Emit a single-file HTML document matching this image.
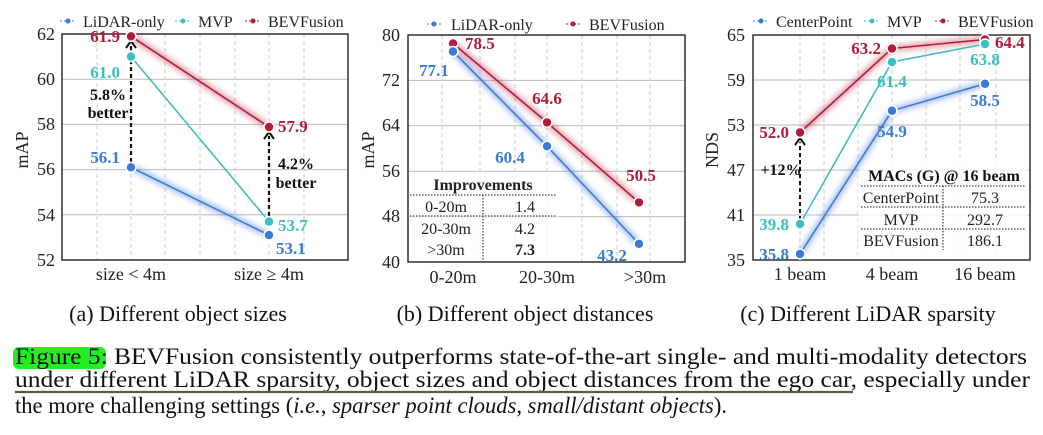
<!DOCTYPE html>
<html><head><meta charset="utf-8"><style>
html,body{margin:0;padding:0;background:#fff;}
svg{display:block;font-family:"Liberation Serif","Times New Roman",Times,serif;}
</style></head><body>
<svg width="1043" height="435" viewBox="0 0 1043 435" xmlns="http://www.w3.org/2000/svg" font-family="Liberation Serif, Times New Roman, serif">
<defs>
<filter id="glow" x="-20%" y="-20%" width="140%" height="140%"><feGaussianBlur stdDeviation="3"/></filter>
</defs>
<g font-size="17" fill="#222">
<!-- ===== Chart A ===== -->
<g stroke="#bbb" stroke-width="1">
<line x1="62" y1="79.2" x2="348" y2="79.2"/><line x1="62" y1="124.4" x2="348" y2="124.4"/><line x1="62" y1="169.6" x2="348" y2="169.6"/><line x1="62" y1="214.8" x2="348" y2="214.8"/>
</g>
<g stroke="#ccc" stroke-width="1" stroke-dasharray="4,3">
<line x1="97" y1="34" x2="97" y2="260"/><line x1="131" y1="34" x2="131" y2="260"/><line x1="165" y1="34" x2="165" y2="260"/><line x1="200" y1="34" x2="200" y2="260"/><line x1="235" y1="34" x2="235" y2="260"/><line x1="269" y1="34" x2="269" y2="260"/><line x1="304" y1="34" x2="304" y2="260"/>
</g>
<rect x="62" y="34" width="286" height="226" fill="none" stroke="#111" stroke-width="1.3"/>
<g text-anchor="end" font-size="18"><text x="55" y="40">62</text><text x="55" y="85">60</text><text x="55" y="130">58</text><text x="55" y="175">56</text><text x="55" y="221">54</text><text x="55" y="266">52</text></g>
<text transform="translate(28,150) rotate(-90)" text-anchor="middle" font-size="18">mAP</text>
<g text-anchor="middle" font-size="18"><text x="131" y="280">size &lt; 4m</text><text x="269" y="280">size ≥ 4m</text></g>
<g filter="url(#glow)" stroke-width="6" opacity="0.45">
<line x1="131" y1="36.3" x2="269" y2="127" stroke="#c0203a"/>
<line x1="131" y1="167.3" x2="269" y2="235.1" stroke="#3a6fe0"/>
</g>
<line x1="131" y1="36.3" x2="269" y2="127" stroke="#b01c3a" stroke-width="1.6"/>
<line x1="131" y1="56.6" x2="269" y2="221.6" stroke="#3bbfc0" stroke-width="1.6"/>
<line x1="131" y1="167.3" x2="269" y2="235.1" stroke="#3a7bd5" stroke-width="1.6"/>
<g stroke="#111" stroke-width="2.2" stroke-dasharray="4,3" fill="none">
<line x1="131" y1="162" x2="131" y2="45"/><line x1="269" y1="216" x2="269" y2="136"/>
</g>
<path d="M126,48 L131,41 L136,48" fill="none" stroke="#111" stroke-width="2"/>
<path d="M264,139 L269,132 L274,139" fill="none" stroke="#111" stroke-width="2"/>
<g stroke="#fff" stroke-width="1.6">
<circle cx="131" cy="36.3" r="5" fill="#b01c3a"/><circle cx="269" cy="127" r="5" fill="#b01c3a"/>
<circle cx="131" cy="56.6" r="5" fill="#3bbfc0"/><circle cx="269" cy="221.6" r="5" fill="#3bbfc0"/>
<circle cx="131" cy="167.3" r="5" fill="#3a7bd5"/><circle cx="269" cy="235.1" r="5" fill="#3a7bd5"/>
</g>
<g font-weight="bold" font-size="17">
<text x="120" y="42" text-anchor="end" fill="#b01c3a">61.9</text>
<text x="120" y="78" text-anchor="end" fill="#3bbfc0">61.0</text>
<text x="120" y="163" text-anchor="end" fill="#3a7bd5">56.1</text>
<text x="278" y="132" fill="#b01c3a">57.9</text>
<text x="278" y="231" fill="#3bbfc0">53.7</text>
<text x="276" y="254" fill="#3a7bd5">53.1</text>
<text x="108" y="100" text-anchor="middle" fill="#111" font-size="16">5.8%</text>
<text x="108" y="118" text-anchor="middle" fill="#111" font-size="16">better</text>
<text x="296" y="169" text-anchor="middle" fill="#111" font-size="16">4.2%</text>
<text x="296" y="188" text-anchor="middle" fill="#111" font-size="16">better</text>
</g>
<g font-size="16">
<line x1="60" y1="21" x2="76" y2="21" stroke="#3a7bd5" stroke-dasharray="2,2"/><circle cx="68" cy="21" r="2.5" fill="#3a7bd5"/><text x="83" y="27">LiDAR-only</text>
<line x1="175" y1="21" x2="191" y2="21" stroke="#3bbfc0" stroke-dasharray="2,2"/><circle cx="183" cy="21" r="2.5" fill="#3bbfc0"/><text x="198" y="27">MVP</text>
<line x1="245" y1="21" x2="261" y2="21" stroke="#b01c3a" stroke-dasharray="2,2"/><circle cx="253" cy="21" r="2.5" fill="#b01c3a"/><text x="268" y="27">BEVFusion</text>
</g>

<!-- ===== Chart B ===== -->
<g stroke="#bbb" stroke-width="1">
<line x1="408" y1="80.4" x2="685" y2="80.4"/><line x1="408" y1="125.8" x2="685" y2="125.8"/><line x1="408" y1="171.2" x2="685" y2="171.2"/><line x1="408" y1="216.6" x2="685" y2="216.6"/>
</g>
<g stroke="#ccc" stroke-width="1" stroke-dasharray="4,3">
<line x1="442" y1="35" x2="442" y2="262"/><line x1="480" y1="35" x2="480" y2="262"/><line x1="515" y1="35" x2="515" y2="262"/><line x1="547" y1="35" x2="547" y2="262"/><line x1="582" y1="35" x2="582" y2="262"/><line x1="617" y1="35" x2="617" y2="262"/><line x1="650" y1="35" x2="650" y2="262"/>
</g>
<rect x="408" y="175" width="150" height="86" fill="#fff" opacity="0.75"/>
<rect x="408" y="35" width="277" height="227" fill="none" stroke="#111" stroke-width="1.3"/>
<g text-anchor="end" font-size="18"><text x="400" y="41">80</text><text x="400" y="86">72</text><text x="400" y="131">64</text><text x="400" y="177">56</text><text x="400" y="222">48</text><text x="400" y="268">40</text></g>
<text transform="translate(374,150) rotate(-90)" text-anchor="middle" font-size="18">mAP</text>
<g text-anchor="middle" font-size="18"><text x="453" y="283">0-20m</text><text x="547" y="283">20-30m</text><text x="645" y="283">&gt;30m</text></g>
<g filter="url(#glow)" stroke-width="6" opacity="0.45">
<polyline points="453,43.5 547,122.4 639,202.4" fill="none" stroke="#c0203a"/>
<polyline points="453,51.5 547,146.2 639,243.8" fill="none" stroke="#3a6fe0"/>
</g>
<polyline points="453,43.5 547,122.4 639,202.4" fill="none" stroke="#b01c3a" stroke-width="1.6"/>
<polyline points="453,51.5 547,146.2 639,243.8" fill="none" stroke="#3a7bd5" stroke-width="1.6"/>
<g stroke="#fff" stroke-width="1.6">
<circle cx="453" cy="43.5" r="5" fill="#b01c3a"/><circle cx="547" cy="122.4" r="5" fill="#b01c3a"/><circle cx="639" cy="202.4" r="5" fill="#b01c3a"/>
<circle cx="453" cy="51.5" r="5" fill="#3a7bd5"/><circle cx="547" cy="146.2" r="5" fill="#3a7bd5"/><circle cx="639" cy="243.8" r="5" fill="#3a7bd5"/>
</g>
<g font-weight="bold" font-size="17">
<text x="465" y="49" fill="#b01c3a">78.5</text>
<text x="434" y="76" text-anchor="middle" fill="#3a7bd5">77.1</text>
<text x="547" y="104" text-anchor="middle" fill="#b01c3a">64.6</text>
<text x="510" y="163" text-anchor="middle" fill="#3a7bd5">60.4</text>
<text x="641" y="181" text-anchor="middle" fill="#b01c3a">50.5</text>
<text x="612" y="261" text-anchor="middle" fill="#3a7bd5">43.2</text>
</g>
<text x="483" y="190" text-anchor="middle" font-weight="bold" font-size="16">Improvements</text>
<g stroke="#111" stroke-width="1" stroke-dasharray="1.5,1.5">
<line x1="410" y1="195" x2="557" y2="195"/><line x1="410" y1="216" x2="557" y2="216"/><line x1="483" y1="195" x2="483" y2="261"/>
</g>
<g font-size="16" text-anchor="middle">
<text x="446" y="212">0-20m</text><text x="525" y="212">1.4</text>
<text x="446" y="234">20-30m</text><text x="525" y="234">4.2</text>
<text x="446" y="255">&gt;30m</text><text x="525" y="255" font-weight="bold">7.3</text>
</g>
<g font-size="16">
<line x1="427" y1="24" x2="441" y2="24" stroke="#3a7bd5" stroke-dasharray="2,2"/><circle cx="434" cy="24" r="2.5" fill="#3a7bd5"/><text x="451" y="30">LiDAR-only</text>
<line x1="566" y1="24" x2="580" y2="24" stroke="#b01c3a" stroke-dasharray="2,2"/><circle cx="573" cy="24" r="2.5" fill="#b01c3a"/><text x="589" y="30">BEVFusion</text>
</g>

<!-- ===== Chart C ===== -->
<g stroke="#bbb" stroke-width="1">
<line x1="753" y1="80" x2="1030" y2="80"/><line x1="753" y1="125" x2="1030" y2="125"/><line x1="753" y1="170" x2="1030" y2="170"/><line x1="753" y1="215" x2="1030" y2="215"/>
</g>
<g stroke="#ccc" stroke-width="1" stroke-dasharray="4,3">
<line x1="800" y1="35" x2="800" y2="260"/><line x1="824" y1="35" x2="824" y2="260"/><line x1="858" y1="35" x2="858" y2="260"/><line x1="892" y1="35" x2="892" y2="260"/><line x1="926" y1="35" x2="926" y2="260"/><line x1="960" y1="35" x2="960" y2="260"/><line x1="996" y1="35" x2="996" y2="260"/>
</g>
<rect x="858" y="160" width="170" height="98" fill="#fff" opacity="0.8"/>
<rect x="753" y="35" width="277" height="225" fill="none" stroke="#111" stroke-width="1.3"/>
<g text-anchor="end" font-size="18"><text x="745" y="41">65</text><text x="745" y="86">59</text><text x="745" y="131">53</text><text x="745" y="176">47</text><text x="745" y="221">41</text><text x="745" y="266">35</text></g>
<text transform="translate(718,150) rotate(-90)" text-anchor="middle" font-size="18">NDS</text>
<g text-anchor="middle" font-size="18"><text x="800" y="280">1 beam</text><text x="892" y="280">4 beam</text><text x="985" y="280">16 beam</text></g>
<g filter="url(#glow)" stroke-width="6" opacity="0.45">
<polyline points="800,132.5 892,48.5 985,39.5" fill="none" stroke="#c0203a"/>
<polyline points="800,254 892,110.75 985,83.75" fill="none" stroke="#3a6fe0"/>
</g>
<polyline points="800,132.5 892,48.5 985,39.5" fill="none" stroke="#b01c3a" stroke-width="1.6"/>
<polyline points="800,224 892,62 985,44" fill="none" stroke="#3bbfc0" stroke-width="1.6"/>
<polyline points="800,254 892,110.75 985,83.75" fill="none" stroke="#3a7bd5" stroke-width="1.6"/>
<line x1="800" y1="220" x2="800" y2="142" stroke="#111" stroke-width="2" stroke-dasharray="4,3"/>
<path d="M795,145 L800,138 L805,145" fill="none" stroke="#111" stroke-width="2"/>
<g stroke="#fff" stroke-width="1.6">
<circle cx="800" cy="132.5" r="5" fill="#b01c3a"/><circle cx="892" cy="48.5" r="5" fill="#b01c3a"/><circle cx="985" cy="39.5" r="5" fill="#b01c3a"/>
<circle cx="800" cy="224" r="5" fill="#3bbfc0"/><circle cx="892" cy="62" r="5" fill="#3bbfc0"/><circle cx="985" cy="44" r="5" fill="#3bbfc0"/>
<circle cx="800" cy="254" r="5" fill="#3a7bd5"/><circle cx="892" cy="110.75" r="5" fill="#3a7bd5"/><circle cx="985" cy="83.75" r="5" fill="#3a7bd5"/>
</g>
<g font-weight="bold" font-size="17">
<text x="789" y="138" text-anchor="end" fill="#b01c3a">52.0</text>
<text x="789" y="230" text-anchor="end" fill="#3bbfc0">39.8</text>
<text x="789" y="260" text-anchor="end" fill="#3a7bd5">35.8</text>
<text x="881" y="54" text-anchor="end" fill="#b01c3a">63.2</text>
<text x="892" y="87" text-anchor="middle" fill="#3bbfc0">61.4</text>
<text x="892" y="137" text-anchor="middle" fill="#3a7bd5">54.9</text>
<text x="995" y="48" fill="#b01c3a">64.4</text>
<text x="985" y="65" text-anchor="middle" fill="#3bbfc0">63.8</text>
<text x="985" y="106" text-anchor="middle" fill="#3a7bd5">58.5</text>
<text x="781" y="175" text-anchor="middle" fill="#111" font-size="16">+12%</text>
<text x="944" y="181" text-anchor="middle" fill="#111" font-size="16">MACs (G) @ 16 beam</text>
</g>
<g stroke="#111" stroke-width="1" stroke-dasharray="1.5,1.5">
<line x1="861" y1="186" x2="1026" y2="186"/><line x1="861" y1="207" x2="1026" y2="207"/><line x1="861" y1="229" x2="1026" y2="229"/><line x1="943" y1="186" x2="943" y2="250"/>
</g>
<g font-size="16" text-anchor="middle">
<text x="901" y="203">CenterPoint</text><text x="985" y="203">75.3</text>
<text x="901" y="225">MVP</text><text x="985" y="225">292.7</text>
<text x="901" y="246">BEVFusion</text><text x="985" y="246">186.1</text>
</g>
<g font-size="16">
<line x1="753" y1="21" x2="769" y2="21" stroke="#3a7bd5" stroke-dasharray="2,2"/><circle cx="761" cy="21" r="2.5" fill="#3a7bd5"/><text x="776" y="27">CenterPoint</text>
<line x1="864" y1="21" x2="880" y2="21" stroke="#3bbfc0" stroke-dasharray="2,2"/><circle cx="872" cy="21" r="2.5" fill="#3bbfc0"/><text x="887" y="27">MVP</text>
<line x1="935" y1="21" x2="951" y2="21" stroke="#b01c3a" stroke-dasharray="2,2"/><circle cx="943" cy="21" r="2.5" fill="#b01c3a"/><text x="958" y="27">BEVFusion</text>
</g>
</g>

<!-- captions -->
<g font-size="22" fill="#111" text-anchor="middle">
<text x="178" y="321">(a) Different object sizes</text>
<text x="525" y="321">(b) Different object distances</text>
<text x="868" y="321">(c) Different LiDAR sparsity</text>
</g>
<rect x="13" y="347" width="93" height="22" rx="6" fill="#22ee22"/>
<g font-size="23" fill="#111">
<text x="15" y="364" textLength="1012" lengthAdjust="spacingAndGlyphs">Figure 5: BEVFusion consistently outperforms state-of-the-art single- and multi-modality detectors</text>
<text x="15" y="387" textLength="1015" lengthAdjust="spacingAndGlyphs">under different LiDAR sparsity, object sizes and object distances from the ego car, especially under</text>
<text x="15" y="413" textLength="712" lengthAdjust="spacingAndGlyphs">the more challenging settings (<tspan font-style="italic">i.e.</tspan>, <tspan font-style="italic">sparser point clouds</tspan>, <tspan font-style="italic">small/distant objects</tspan>).</text>
</g>
<line x1="15" y1="392" x2="853" y2="392" stroke="#5a5a45" stroke-width="2.2"/>
</svg>
</body></html>
